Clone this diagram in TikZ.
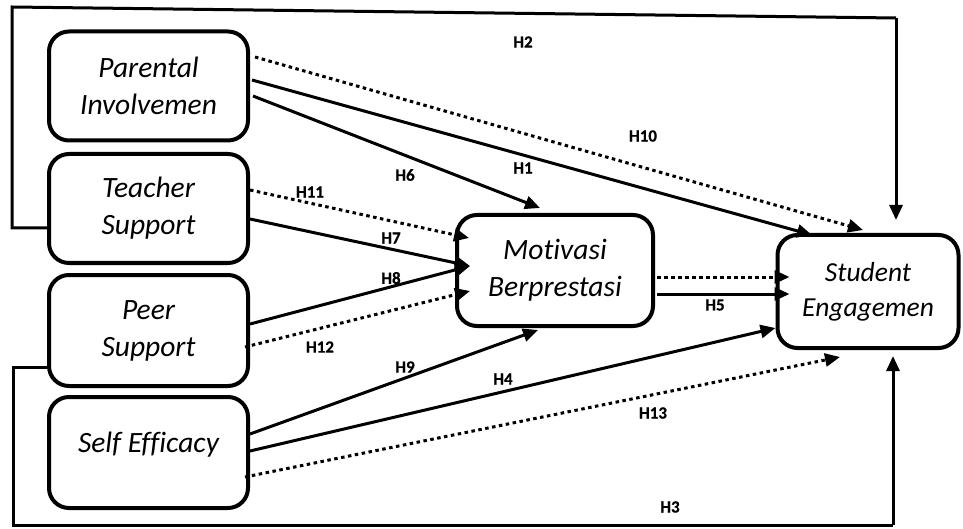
\documentclass[tikz,border=0pt]{standalone}
\usepackage{fontspec}
\setmainfont{Carlito}[Ligatures=NoCommon]
\newfontfamily\hypfont{Carlito}[FakeBold=0.6]
\usetikzlibrary{arrows.meta, calc}

\tikzset{
  var/.style={draw, line width=4pt, rounded corners=20pt, minimum width=199pt,
    minimum height=109pt, align=center, inner sep=0pt,
    font=\itshape\fontsize{29.5}{37}\selectfont},
  link/.style={line width=3pt, -{Triangle[length=15pt, width=13pt]}},
  hint/.style={link, dash pattern=on 3.5pt off 3.5pt},
  loop/.style={line width=3pt},
  hyp/.style={font=\hypfont\bfseries\fontsize{17}{20}\selectfont, inner sep=0pt}
}

\begin{document}
\begin{tikzpicture}[x=1pt, y=-1pt]

  \useasboundingbox (0, 0) rectangle (963, 529);

  % constructs
  \node[var] (pi) at (148.5, 86) {Parental\\Involvemen};
  \node[var] (ts) at (148.5, 208.5) {Teacher\\Support};
  \node[var, minimum height=111pt] (ps) at (148.5, 330.5) {Peer\\Support};
  \node[var, minimum height=111pt, text depth=20pt] (se) at (148.5, 452.5) {Self Efficacy};
  \node[var, minimum width=196pt, minimum height=111pt] (mb) at (555, 270.5) {Motivasi\\Berprestasi};
  \node[var, minimum width=181pt, minimum height=113pt,
    font=\itshape\fontsize{27.5}{35}\selectfont] (sen) at (868, 291.5) {Student\\Engagemen};

  % direct loops (H2, H3)
  \coordinate (tl) at (12, 7);
  \coordinate (tr) at (896, 18);
  \draw[loop] ($(ts.west)+(0, 19.5)$) -- (12, 228) -- (tl) -- (tr);
  \draw[link] (tr) -- ($(sen.north)+(28, -13)$);

  \coordinate (bl) at (13, 525);
  \coordinate (br) at (893, 525);
  \draw[loop] ($(ps.west)+(0, 36.5)$) -- (13, 367) -- (bl) -- (br);
  \draw[link] (br) -- ($(sen.south)+(25, 6)$);

  % parental involvemen
  \draw[hint] ($(pi.east)+(5, -29)$) -- ($(sen.north)+(-5, -3)$);
  \draw[link] ($(pi.east)+(2, -6)$) -- ($(sen.north)+(-56, 2)$);
  \draw[link] ($(pi.east)+(3, 10)$) -- ($(mb.north)+(-15, -5)$);

  % teacher support
  \draw[hint] ($(ts.east)+(0, -18.5)$) -- ($(mb.west)+(14, -32.5)$);
  \draw[link] ($(ts.east)+(0, 10.5)$) -- ($(mb.west)+(15, -4.5)$);

  % peer support
  \draw[link] ($(ps.east)+(0, -6.5)$) -- ($(mb.west)+(15, -4.5)$);
  \draw[hint] ($(ps.east)+(-5, 16.5)$) -- ($(mb.west)+(15, 20.5)$);

  % self efficacy
  \draw[link] ($(se.east)+(0, -18.5)$) -- ($(mb.south)+(-17, 2)$);
  \draw[link] ($(se.east)+(0, -1.5)$) -- ($(sen.west)+(0, 36.5)$);
  \draw[hint] ($(se.east)+(-5, 24.5)$) -- ($(sen.south)+(-28, 7)$);

  % motivasi berprestasi
  \draw[hint] ($(mb.east)+(2, 6.5)$) -- ($(sen.west)+(14, -14.5)$);
  \draw[link] ($(mb.east)+(2, 23.5)$) -- ($(sen.west)+(14, 2.5)$);

  % hypotheses
  \node[hyp] (h1) at (523, 168) {H1};
  \node[hyp] (h2) at (523, 42) {H2};
  \node[hyp] (h3) at (670, 507) {H3};
  \node[hyp] (h4) at (503, 379) {H4};
  \node[hyp] (h5) at (715, 305) {H5};
  \node[hyp] (h6) at (405, 175) {H6};
  \node[hyp] (h7) at (391, 238) {H7};
  \node[hyp] (h8) at (391, 278) {H8};
  \node[hyp] (h9) at (405, 367) {H9};
  \node[hyp] (h10) at (643, 136) {H10};
  \node[hyp] (h11) at (310, 192) {H11};
  \node[hyp] (h12) at (320, 347) {H12};
  \node[hyp] (h13) at (653, 413) {H13};

\end{tikzpicture}
\end{document}
